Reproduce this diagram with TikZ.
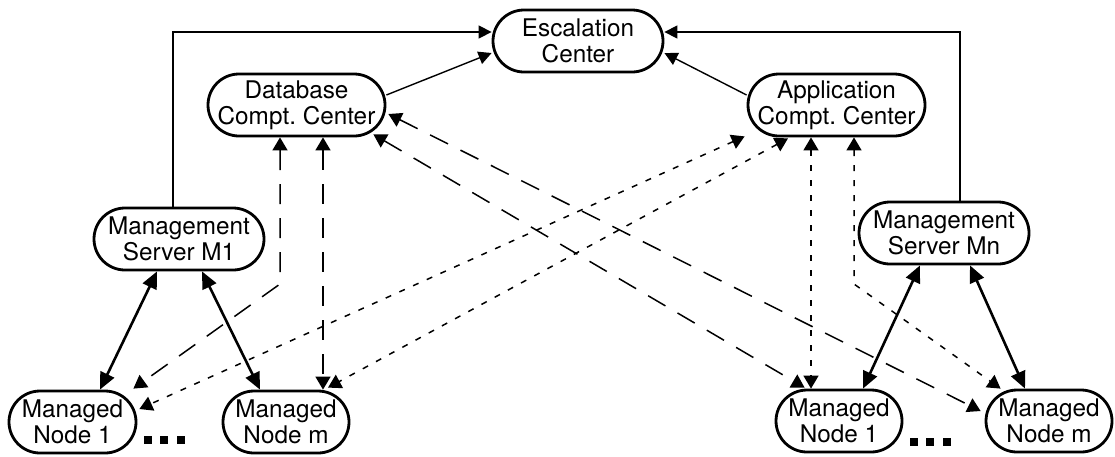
\documentclass[tikz,border=0pt]{standalone}
\usepackage{fontspec}
\setmainfont{TeX Gyre Heros}
\usetikzlibrary{arrows.meta,calc}
\frenchspacing
\begin{document}
\begin{tikzpicture}[x=1pt,y=-1pt,
  box/.style={draw, line width=2.8pt, rectangle, rounded corners=31pt,
    minimum height=62pt, align=center, inner sep=1pt,
    font=\fontsize{24.3pt}{26pt}\selectfont},
  solidarrow/.style={line width=1.4pt, -{Triangle[length=13pt,width=13pt]}},
  bidir/.style={line width=2.6pt, {Triangle[length=17pt,width=15pt]}-{Triangle[length=17pt,width=15pt]}},
  longdash/.style={line width=1.5pt, dash pattern=on 20pt off 14pt,
    {Triangle[length=13pt,width=15pt]}-{Triangle[length=13pt,width=15pt]}},
  shortdash/.style={line width=1.5pt, dash pattern=on 6pt off 9pt,
    {Triangle[length=13pt,width=15pt]}-{Triangle[length=13pt,width=15pt]}},
  dotsq/.style={fill=black}
]
\useasboundingbox (0,0) rectangle (1115,456);

% nodes
\node[box, minimum width=170pt] (esc) at (578,41) {Escalation\\Center};
\node[box, minimum width=177pt] (db)  at (296.5,105) {Database\\Compt.\ Center};
\node[box, minimum width=177pt] (app) at (836.5,105) {Application\\Compt.\ Center};
\node[box, minimum width=170pt] (m1)  at (179,239) {Management\\Server M1};
\node[box, minimum width=170pt] (mn)  at (944,233) {Management\\Server Mn};
\node[box, minimum width=127pt] (l1)  at (72.5,422) {Managed\\Node 1};
\node[box, minimum width=126pt] (lm)  at (286,422) {Managed\\Node m};
\node[box, minimum width=126pt] (r1)  at (839,421) {Managed\\Node 1};
\node[box, minimum width=126pt] (rm)  at (1049,421) {Managed\\Node m};

\coordinate (bendA) at (280,284);
\coordinate (bendB) at (854,284);

% solid arrows to escalation
\draw[solidarrow] ([xshift=-6pt]m1.north) |- ([yshift=9pt]esc.west);
\draw[solidarrow] ([xshift=16pt]mn.north) |- ([yshift=9pt]esc.east);
\draw[solidarrow] ([yshift=10pt]db.east) -- ([yshift=-12pt]esc.west);
\draw[solidarrow] ([yshift=10pt]app.west) -- ([yshift=-12pt]esc.east);

% management server <-> managed nodes
\draw[bidir] ([xshift=-22pt]m1.south) -- ([xshift=27.5pt]l1.north);
\draw[bidir] ([xshift=23pt]m1.south) -- ([xshift=-26pt]lm.north);
\draw[bidir] ([xshift=-24pt]mn.south) -- ([xshift=24pt]r1.north);
\draw[bidir] ([xshift=26pt]mn.south) -- ([xshift=-24pt]rm.north);

% database compt. center links
\draw[longdash] ([xshift=-16.5pt]db.south) -- (bendA) -- ([xshift=-4pt,yshift=1pt]l1.north east);
\draw[longdash] ([xshift=26.5pt]db.south) -- ([xshift=26.5pt]db.south |- lm.north);
\draw[longdash] ([xshift=-13pt,yshift=3pt]db.south east) -- ([xshift=30pt,yshift=1pt]r1.north west);
\draw[longdash] ([xshift=2pt,yshift=-9pt]db.east) -- ([xshift=-4pt,yshift=10pt]rm.west);

% application compt. center links
\draw[shortdash] ([xshift=-2pt,yshift=1pt]app.south west) -- ([xshift=2pt,yshift=13pt]l1.east);
\draw[shortdash] ([xshift=-48.5pt,yshift=-1pt]app.south) -- ([xshift=42pt,yshift=2pt]lm.north);
\draw[shortdash] ([xshift=-25.5pt]app.south) -- ([xshift=-25.5pt]app.south |- r1.north);
\draw[shortdash] ([xshift=17.5pt]app.south) -- (bendB) -- ([xshift=16pt]rm.north west);

% ellipsis squares
\fill[dotsq] (143.5,435.5) rectangle +(8,8);
\fill[dotsq] (160,435.5) rectangle +(8,8);
\fill[dotsq] (176.5,435.5) rectangle +(8,8);
\fill[dotsq] (909.5,438) rectangle +(8,8);
\fill[dotsq] (926,438) rectangle +(8,8);
\fill[dotsq] (942.5,438) rectangle +(8,8);
\end{tikzpicture}
\end{document}
